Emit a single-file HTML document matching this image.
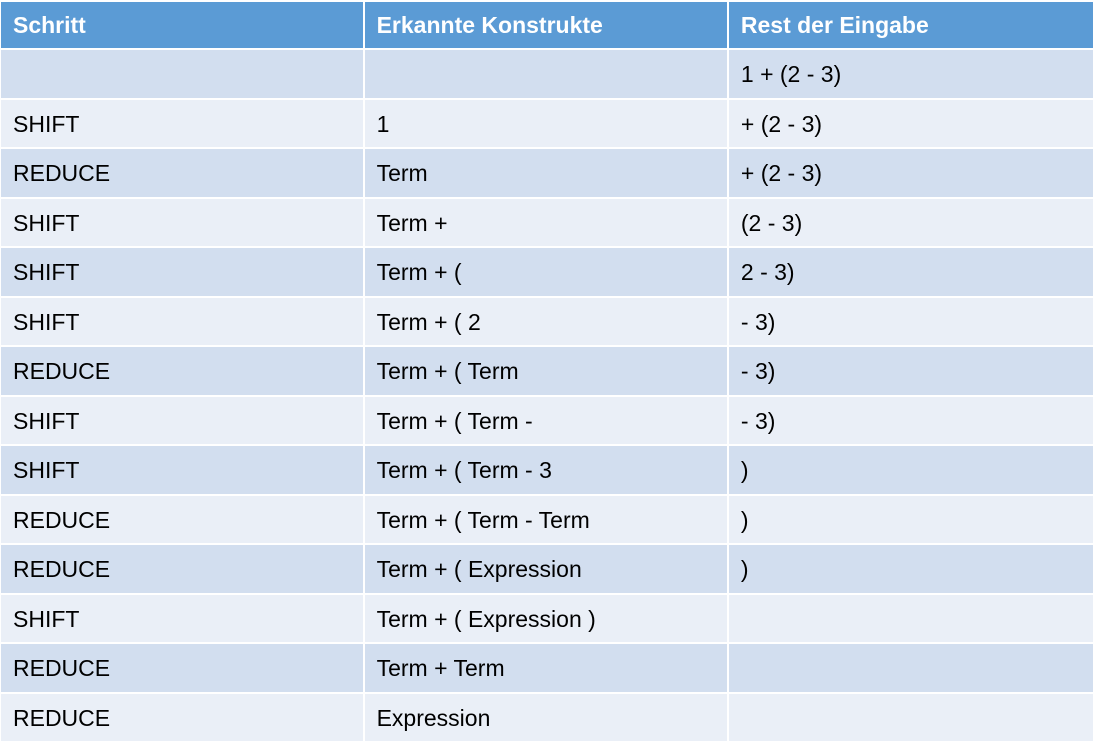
<!DOCTYPE html>
<html><head><meta charset="utf-8"><style>
body{margin:0;width:1095px;height:742px;background:#fff;overflow:hidden;font-family:"Liberation Sans",sans-serif}
table{position:absolute;left:0;top:0;border-collapse:separate;border-spacing:2px;margin:0 0 0 -1px;table-layout:fixed}
td,th{padding:2px 0 0 12px;font-size:23px;color:#000;text-align:left;white-space:nowrap;height:47.5px;box-sizing:border-box}
th{background:#5B9BD5;color:#fff;font-weight:bold;height:46px;padding-top:0}
tr.o td{background:#D2DEEF}
tr.e td{background:#EAEFF7}
</style></head><body>
<table>
<colgroup><col style="width:363px"><col style="width:363px"><col style="width:365px"></colgroup>
<tr><th>Schritt</th><th>Erkannte Konstrukte</th><th>Rest der Eingabe</th></tr>
<tr class="o"><td></td><td></td><td>1 + (2 - 3)</td></tr>
<tr class="e"><td>SHIFT</td><td>1</td><td>+ (2 - 3)</td></tr>
<tr class="o"><td>REDUCE</td><td>Term</td><td>+ (2 - 3)</td></tr>
<tr class="e"><td>SHIFT</td><td>Term +</td><td>(2 - 3)</td></tr>
<tr class="o"><td>SHIFT</td><td>Term + (</td><td>2 - 3)</td></tr>
<tr class="e"><td>SHIFT</td><td>Term + ( 2</td><td>- 3)</td></tr>
<tr class="o"><td>REDUCE</td><td>Term + ( Term</td><td>- 3)</td></tr>
<tr class="e"><td>SHIFT</td><td>Term + ( Term -</td><td>- 3)</td></tr>
<tr class="o"><td>SHIFT</td><td>Term + ( Term - 3</td><td>)</td></tr>
<tr class="e"><td>REDUCE</td><td>Term + ( Term - Term</td><td>)</td></tr>
<tr class="o"><td>REDUCE</td><td>Term + ( Expression</td><td>)</td></tr>
<tr class="e"><td>SHIFT</td><td>Term + ( Expression )</td><td></td></tr>
<tr class="o"><td>REDUCE</td><td>Term + Term</td><td></td></tr>
<tr class="e"><td>REDUCE</td><td>Expression</td><td></td></tr>
</table>
</body></html>
